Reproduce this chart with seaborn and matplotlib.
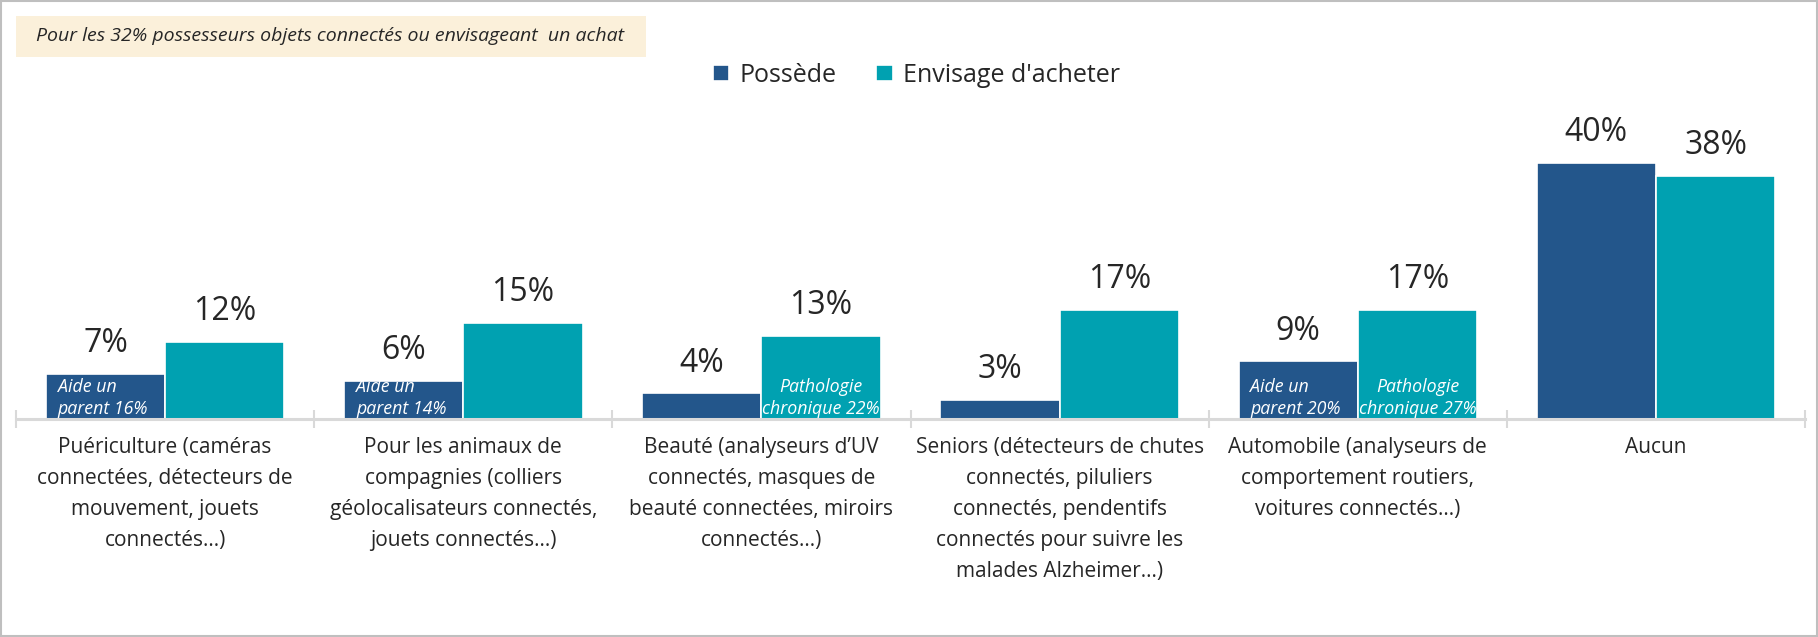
import matplotlib
matplotlib.use("Agg")
import matplotlib.pyplot as plt
from matplotlib.patches import Rectangle
import pandas as pd
import seaborn as sns

# data
categories = [
    "Puériculture (caméras\nconnectées, détecteurs de\nmouvement, jouets\nconnectés…)",
    "Pour les animaux de\ncompagnies (colliers\ngéolocalisateurs connectés,\njouets connectés…)",
    "Beauté (analyseurs d’UV\nconnectés, masques de\nbeauté connectées, miroirs\nconnectés…)",
    "Seniors (détecteurs de chutes\nconnectés, piluliers\nconnectés, pendentifs\nconnectés pour suivre les\nmalades Alzheimer…)",
    "Automobile (analyseurs de\ncomportement routiers,\nvoitures connectés…)",
    "Aucun",
]
possede = [7, 6, 4, 3, 9, 40]
envisage = [12, 15, 13, 17, 17, 38]
series = ["Possède", "Envisage d'acheter"]
inner_possede = ["Aide un\nparent 16%", "Aide un\nparent 14%", "", "", "Aide un\nparent 20%", ""]
inner_envisage = ["", "", "Pathologie\nchronique 22%", "", "Pathologie\nchronique 27%", ""]
note = "Pour les 32% possesseurs objets connectés ou envisageant  un achat"

DARK = "#23568B"
TEAL = "#00A1B1"
GRID = "#D9D9D9"

df = pd.DataFrame({
    "cat": categories * 2,
    "val": possede + envisage,
    "serie": [series[0]] * len(categories) + [series[1]] * len(categories),
})

sns.set_style("white")
plt.rcParams["font.family"] = ["Open Sans", "DejaVu Sans"]

fig = plt.figure(figsize=(18.18, 6.37), dpi=100)
ax = fig.add_axes([0.0088, 0.3422, 0.9841, 0.4515])

sns.barplot(data=df, x="cat", y="val", hue="serie", palette=[DARK, TEAL],
            saturation=1, width=0.8, edgecolor="white", linewidth=1.2, ax=ax)

ax.set_ylim(0, 45)
ax.set_xlim(-0.5, len(categories) - 0.5)
ax.set_xlabel("")
ax.set_ylabel("")
ax.set_yticks([])
for s in ["top", "left", "right"]:
    ax.spines[s].set_visible(False)
ax.spines["bottom"].set_color(GRID)
ax.spines["bottom"].set_linewidth(2.2)

ax.set_xticks(range(len(categories)))
ax.set_xticklabels(categories, fontsize=15, color="#262626", linespacing=1.62)
ax.tick_params(axis="x", which="major", length=0, pad=13)
ax.set_xticks([i - 0.5 for i in range(len(categories) + 1)], minor=True)
ax.tick_params(axis="x", which="minor", bottom=True, length=13, width=1.5,
               color=GRID, direction="inout")

# value labels
for cont in ax.containers:
    ax.bar_label(cont, fmt="%d%%", padding=10, fontsize=23, color="#262626")

# texts inside bars
for bar, txt in zip(ax.containers[0], inner_possede):
    if txt:
        ax.text(bar.get_x() + 0.04, 0.1, txt, ha="left", va="bottom",
                color="white", fontsize=12.8, style="italic", linespacing=1.3)
for bar, txt in zip(ax.containers[1], inner_envisage):
    if txt:
        ax.text(bar.get_x() + bar.get_width() / 2, 0.1, txt, ha="center",
                va="bottom", color="white", fontsize=12.8, style="italic",
                linespacing=1.3)

# legend on top
handles, labels = ax.get_legend_handles_labels()
ax.legend_.remove()
fig.legend(handles, labels, loc="center", bbox_to_anchor=(0.504, 0.882),
           ncol=2, frameon=False, fontsize=18, handlelength=0.65,
           handleheight=0.65, handletextpad=0.4, columnspacing=1.6,
           labelcolor="#262626")

# note box and outer frame
fig.patches.append(Rectangle((0.0088, 0.9105), 0.3465, 0.0645,
                             transform=fig.transFigure, facecolor="#FBF0DA",
                             edgecolor="none", zorder=0))
fig.text(0.02, 0.943, note, fontsize=14, style="italic", color="#262626",
         va="center", ha="left")
fig.patches.append(Rectangle((0.0005, 0.001), 0.999, 0.998,
                             transform=fig.transFigure, facecolor="none",
                             edgecolor="#BFBFBF", linewidth=1.5))

fig.savefig("out.png", dpi=100)
